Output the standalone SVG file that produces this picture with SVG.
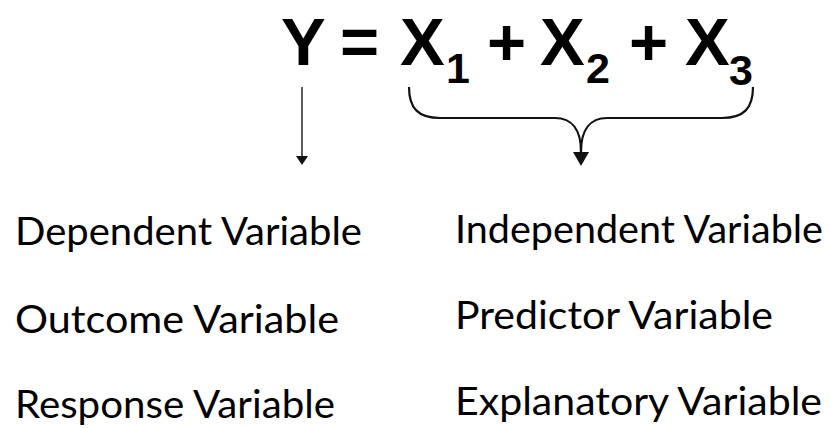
<svg xmlns="http://www.w3.org/2000/svg" width="830" height="428" viewBox="0 0 830 428">
<defs>
<style>
.eq{font-family:"Liberation Sans",Arial,sans-serif;font-weight:bold;fill:#000;font-size:67px}
.sub{font-family:"Liberation Sans",Arial,sans-serif;font-weight:bold;fill:#000;font-size:43px}
.lbl{font-family:"Lato","Liberation Sans",sans-serif;fill:#000;font-size:39px}
.con{fill:none;stroke:#111;stroke-width:2.2}
</style>
</defs>
<rect width="830" height="428" fill="#fff"/>
<g id="equation">
<text class="eq" x="281" y="65">Y</text>
<text class="eq" x="340" y="65">=</text>
<text class="eq" x="400" y="65">X</text>
<text class="sub" x="446" y="83">1</text>
<text class="eq" x="487" y="65">+</text>
<text class="eq" x="540" y="65">X</text>
<text class="sub" x="586" y="83">2</text>
<text class="eq" x="629" y="65">+</text>
<text class="eq" x="685" y="65">X</text>
<text class="sub" x="729" y="85">3</text>
</g>
<g id="connectors">
<line x1="302" y1="87" x2="302" y2="156" style="stroke:#333;stroke-width:1.6"/>
<path d="M296,156 L308,156 L302,165 Z" fill="#111"/>
<path class="con" d="M409,87 C409,108 418,118 440,118 L555,118 C572,118 581,130 581,152"/>
<path class="con" d="M753,87 C753,108 744,118 722,118 L607,118 C590,118 581,130 581,152"/>
<path d="M573,152 L589,152 L581,166 Z" fill="#111"/>
</g>
<g id="dependent">
<text class="lbl" x="15" y="245" textLength="347" lengthAdjust="spacingAndGlyphs">Dependent Variable</text>
<text class="lbl" x="15" y="333" textLength="324" lengthAdjust="spacingAndGlyphs">Outcome Variable</text>
<text class="lbl" x="15" y="418" textLength="320" lengthAdjust="spacingAndGlyphs">Response Variable</text>
</g>
<g id="independent">
<text class="lbl" x="455" y="243" textLength="368" lengthAdjust="spacingAndGlyphs">Independent Variable</text>
<text class="lbl" x="455" y="329" textLength="318" lengthAdjust="spacingAndGlyphs">Predictor Variable</text>
<text class="lbl" x="455" y="415" textLength="367" lengthAdjust="spacingAndGlyphs">Explanatory Variable</text>
</g>
</svg>
